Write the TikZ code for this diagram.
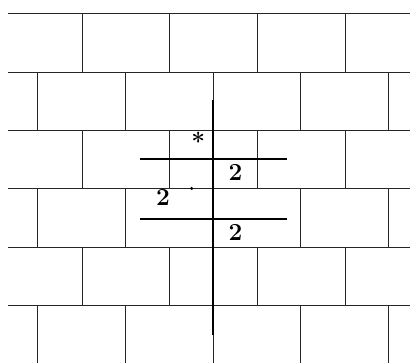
\documentclass[tikz,border=0pt]{standalone}
\begin{document}
\begin{tikzpicture}[x=1pt,y=-1pt,
  grid/.style={line width=1pt,black!85},
  heavy/.style={line width=2pt,black},
  lbl/.style={inner sep=0pt,font=\bfseries\fontsize{24.5}{26}\selectfont}]
\useasboundingbox (0,0) rectangle (410,363);
% horizontal mortar lines
\foreach \r in {0,...,5}{
  \draw[grid] (8,{14+58.33*\r}) -- (410,{14+58.33*\r});
}
% vertical joints, odd rows
\foreach \r in {0,2,4}{
  \foreach \x in {82,169.7,257.3,345}{
    \draw[grid] (\x,{14+58.33*\r}) -- (\x,{14+58.33*(\r+1)});
  }
}
% vertical joints, even rows
\foreach \r in {1,3}{
  \foreach \x in {37.8,125.5,213.2,300.9,388.6}{
    \draw[grid] (\x,{14+58.33*\r}) -- (\x,{14+58.33*(\r+1)});
  }
}
\foreach \x in {37.8,125.5,213.2,300.9,388.6}{
  \draw[grid] (\x,305.7) -- (\x,363);
}
% heavy axes
\coordinate (vt) at (213.4,100);
\coordinate (vb) at (213.4,335);
\draw[heavy] (vt) -- (vb);
\coordinate (h1l) at (140,159.3);
\coordinate (h1r) at (287,159.3);
\draw[heavy] (h1l) -- (h1r);
\coordinate (h2l) at (140,218.7);
\coordinate (h2r) at (287,218.7);
\draw[heavy] (h2l) -- (h2r);
% labels
\node[lbl] (star) at (198.3,141) {*};
\node[lbl] (twoa) at (235.5,172.5) {2};
\node[lbl] (twob) at (163,197.8) {2};
\node[lbl] (twoc) at (235.5,232.5) {2};
\fill (191.7,188.5) circle[radius=1.7pt];
\end{tikzpicture}
\end{document}
